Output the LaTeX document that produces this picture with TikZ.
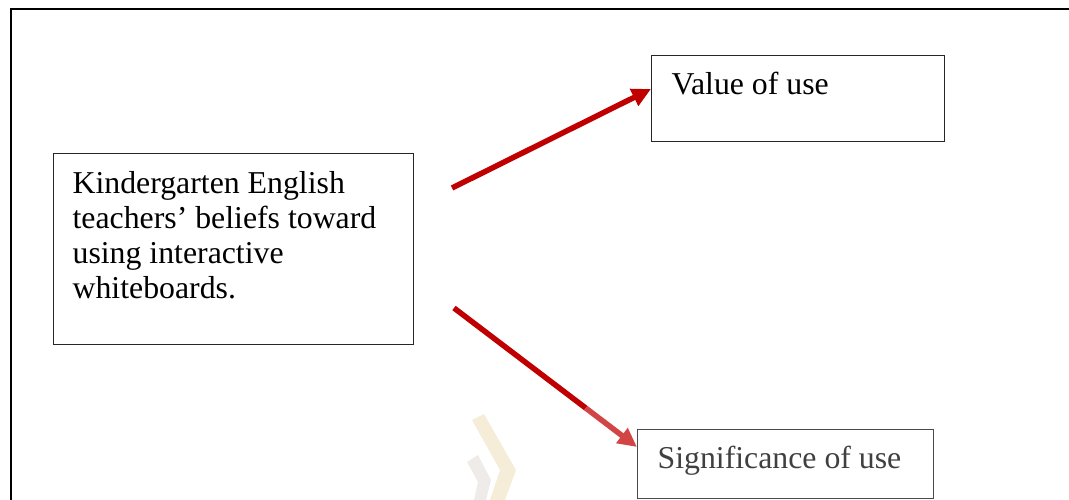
\documentclass[tikz,border=0pt]{standalone}
\usepackage{fontspec}
\setmainfont{Liberation Serif}
\usetikzlibrary{arrows.meta, calc}

\definecolor{arrowred}{HTML}{C00000}
\definecolor{arrowlight}{HTML}{D24545}
\definecolor{markgold}{HTML}{EAD6AA}
\definecolor{markgray}{HTML}{D9D2CB}

% text block of a box: top aligned, fixed height
\newcommand{\cellbox}[3]{\begin{minipage}[t][#2][t]{#1}\raggedright\strut#3\end{minipage}}

\begin{document}
\begin{tikzpicture}[x=1pt, y=-1pt,
    box/.style={draw=black!85, line width=1.2pt, anchor=north west,
        inner xsep=20pt, inner ysep=14.5pt,
        font=\fontsize{31.8}{35}\selectfont},
    link/.style={line width=5.5pt, -{Triangle[length=19pt,width=18pt]}}]
  \useasboundingbox (0,0) rectangle (1069,500);

  % frame of the page (only top and left edges show)
  \draw[line width=2pt] (11,500) -- (11,9) -- (1069,9);

  % faint watermark
  \fill[markgold, opacity=0.45] (484,414) -- (516,470) -- (505,500) -- (490,500) -- (500,470) -- (472,420) -- cycle;
  \fill[markgray, opacity=0.45] (478,455) -- (491,480) -- (486,500) -- (474,500) -- (478,482) -- (467,462) -- cycle;

  % boxes
  \node[box, inner xsep=19pt, inner ysep=15.5pt] (kg) at (53,153)
    {\cellbox{322pt}{160pt}{Kindergarten English\\ teachers’ beliefs toward\\ using interactive\\ whiteboards.}};
  \node[box] (val) at (651,55) {\cellbox{253pt}{57pt}{Value of use}};
  \node[box, draw=black!70, text=black!75] (sig) at (637,429) {\cellbox{256pt}{40pt}{Significance of use}};

  % arrows
  \coordinate (a1) at (452,188);
  \coordinate (a2) at (454,308);
  \coordinate (e1) at ($(val.north west)+(0,34)$);
  \coordinate (e2) at ($(sig.north west)+(0,18)$);
  \draw[link, arrowred] (a1) -- (e1);
  \draw[line width=5.5pt, arrowred] (a2) -- ($(a2)!0.72!(e2)$);
  \draw[link, arrowlight] ($(a2)!0.72!(e2)$) -- (e2);
\end{tikzpicture}
\end{document}
